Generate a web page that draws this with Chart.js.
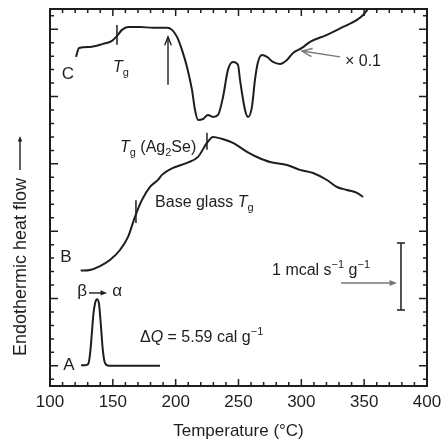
<!DOCTYPE html>
<html>
<head>
<meta charset="utf-8">
<script src="https://cdn.jsdelivr.net/npm/chart.js@4.4.0/dist/chart.umd.min.js"></script>
<style>
  html, body { margin: 0; padding: 0; background: #fff; }
  canvas { display: block; }
</style>
</head>
<body>
<canvas id="c" width="442" height="441" style="width:442px;height:441px"></canvas>
<script>
// curve A (beta -> alpha transition)
const tempA = [124.7, 128, 130.5, 132, 133.2, 134.5, 136, 137.5, 139, 140.5, 142, 143.8, 147, 160, 187.5];
const heatA = [0.05, 0.05, 0.15, 1.0, 2.3, 3.8, 4.7, 4.95, 4.6, 3.0, 1.2, 0.2, 0.0, 0.0, 0.0];

// curve B (base glass)
const tempB = [124.4, 131.8, 139.8, 147.7, 155.7, 162.1, 167.6, 173.2, 179.6, 185.9, 189.1, 197.9, 209.0, 217.8, 224.9,
  229.7, 236.9, 245.6, 256.8, 264.7, 275.1, 288.6, 298.9, 309.3, 320.4, 328.4, 336.3, 344.3, 349.1];
const heatB = [7.07, 7.12, 7.41, 7.86, 8.60, 9.57, 11.06, 12.32, 13.29, 13.81, 14.18, 14.70, 15.07, 15.52, 16.56,
  17.00, 16.85, 16.56, 15.89, 15.51, 15.14, 14.92, 14.55, 14.32, 13.80, 13.28, 13.06, 12.84, 12.54];

// curve C
const tempC = [120.7, 123.1, 131.8, 142.2, 149.3, 153.3, 157.3, 162.1, 171.6, 182.0, 193.1, 197.1, 201.1, 205.0, 209.0,
  213.0, 215.4, 217.8, 221.7, 225.7, 229.7, 233.7, 237.7, 241.6, 245.6, 249.6, 251.2, 255.2, 257.6, 260.7, 263.1,
  265.5, 268.7, 272.7, 277.4, 283.0, 288.6, 293.4, 300.5, 306.9, 320.4, 333.2, 344.3, 349.1, 353.0];
const heatC = [22.94, 23.61, 23.68, 23.91, 24.13, 24.50, 24.95, 25.17, 25.17, 25.10, 25.10, 24.95, 24.43, 23.46, 22.20,
  20.49, 19.00, 18.26, 18.33, 18.63, 18.48, 18.63, 19.97, 21.98, 22.57, 22.35, 21.24, 19.00, 18.48, 19.23, 21.24,
  22.57, 23.09, 22.94, 22.57, 22.42, 22.72, 23.24, 23.61, 24.06, 24.58, 25.17, 25.69, 26.06, 26.50];

const xTicks = [100, 150, 200, 250, 300, 350, 400];

const toPts = (xs, ys) => xs.map((x, i) => ({ x: x, y: ys[i] }));

const ink = '#1e1e1e';
const grey = '#777';
const FONT = '"Liberation Sans", Arial, Helvetica, sans-serif';

function font(size, italic) {
  return (italic ? 'italic ' : '') + size + 'px ' + FONT;
}

// draw text made of parts: {t, it, sub, sup}
function rich(ctx, x, y, parts, size) {
  ctx.save();
  ctx.fillStyle = ink;
  ctx.textBaseline = 'alphabetic';
  ctx.textAlign = 'left';
  let cx = x;
  for (const p of parts) {
    let s = size, dy = 0;
    if (p.sub) { s = Math.round(size * 0.7); dy = 4; }
    if (p.sup) { s = Math.round(size * 0.7); dy = -7; }
    ctx.font = font(s, p.it);
    ctx.fillText(p.t, cx, y + dy);
    cx += ctx.measureText(p.t).width;
  }
  ctx.restore();
}

function arrow(ctx, x1, y1, x2, y2, color, filled, head) {
  const a = Math.atan2(y2 - y1, x2 - x1);
  const h = head || 8, w = 0.38;
  ctx.save();
  ctx.strokeStyle = color;
  ctx.fillStyle = color;
  ctx.lineWidth = 1.4;
  ctx.beginPath();
  ctx.moveTo(x1, y1);
  ctx.lineTo(filled ? x2 - Math.cos(a) * h * 0.8 : x2, filled ? y2 - Math.sin(a) * h * 0.8 : y2);
  ctx.stroke();
  ctx.beginPath();
  ctx.moveTo(x2 - h * Math.cos(a - w), y2 - h * Math.sin(a - w));
  ctx.lineTo(x2, y2);
  ctx.lineTo(x2 - h * Math.cos(a + w), y2 - h * Math.sin(a + w));
  if (filled) { ctx.closePath(); ctx.fill(); } else { ctx.stroke(); }
  ctx.restore();
}

const decor = {
  id: 'decor',
  afterDraw(chart) {
    const ctx = chart.ctx;
    const xs = chart.scales.x, ys = chart.scales.y;
    const X = v => xs.getPixelForValue(v);
    const Y = v => ys.getPixelForValue(v);
    const a = chart.chartArea;

    ctx.save();
    // ticks, pointing inward on all four sides
    ctx.strokeStyle = ink;
    ctx.lineWidth = 1.5;
    ctx.beginPath();
    for (let t = 100; t <= 400; t += 10) {
      const len = t % 50 === 0 ? 7 : 4;
      const px = X(t);
      ctx.moveTo(px, a.bottom); ctx.lineTo(px, a.bottom - len);
      ctx.moveTo(px, a.top); ctx.lineTo(px, a.top + len);
    }
    for (let u = -1; u <= 26; u++) {
      const len = u % 5 === 0 ? 8 : 4;
      const py = Y(u);
      ctx.moveTo(a.left, py); ctx.lineTo(a.left + len, py);
      ctx.moveTo(a.right, py); ctx.lineTo(a.right - len, py);
    }
    ctx.stroke();

    // frame
    ctx.lineWidth = 2;
    ctx.strokeRect(a.left, a.top, a.right - a.left, a.bottom - a.top);

    // x tick labels
    ctx.fillStyle = ink;
    ctx.font = font(17);
    ctx.textAlign = 'center';
    ctx.textBaseline = 'middle';
    xTicks.forEach(t => ctx.fillText(String(t), X(t), a.bottom + 16));

    // axis titles
    ctx.font = font(17);
    ctx.fillText('Temperature (\u00B0C)', (a.left + a.right) / 2, a.bottom + 45);

    ctx.save();
    ctx.translate(21, 356);
    ctx.rotate(-Math.PI / 2);
    ctx.font = font(18);
    ctx.textAlign = 'left';
    const yt = 'Endothermic heat flow';
    ctx.fillText(yt, 0, 0);
    const tw = ctx.measureText(yt).width;
    ctx.restore();
    arrow(ctx, 20, 356 - tw - 8, 20, 356 - tw - 42, ink, true, 6);

    // glass transition tick marks on curves
    ctx.lineWidth = 1.5;
    ctx.strokeStyle = ink;
    ctx.beginPath();
    ctx.moveTo(X(153.3), Y(23.84)); ctx.lineTo(X(153.3), Y(25.32));
    ctx.moveTo(X(224.9), Y(16.04)); ctx.lineTo(X(224.9), Y(17.3));
    ctx.moveTo(X(168.4), Y(10.6)); ctx.lineTo(X(168.4), Y(12.3));
    ctx.stroke();

    // curve letters
    ctx.font = font(17);
    ctx.textAlign = 'center';
    ctx.textBaseline = 'middle';
    ctx.fillText('A', X(115.1), Y(0.06));
    ctx.fillText('B', X(112.7), Y(8.08));
    ctx.fillText('C', X(114.3), Y(21.68));

    // labels
    rich(ctx, X(150.1), Y(21.83), [{ t: 'T', it: true }, { t: 'g', sub: true }], 16);
    rich(ctx, X(155.7), Y(15.88), [{ t: 'T', it: true }, { t: 'g', sub: true }, { t: ' (Ag' }, { t: '2', sub: true }, { t: 'Se)' }], 16);
    rich(ctx, X(183.6), Y(11.8), [{ t: 'Base glass ' }, { t: 'T', it: true }, { t: 'g', sub: true }], 16);
    rich(ctx, X(171.6), Y(1.77), [{ t: '\u0394' }, { t: 'Q', it: true }, { t: ' = 5.59 cal g' }, { t: '\u22121', sup: true }], 16);
    rich(ctx, X(334.7), Y(22.28), [{ t: '\u00D7 0.1' }], 16);
    rich(ctx, X(276.7), Y(6.75), [{ t: '1 mcal s' }, { t: '\u22121', sup: true }, { t: ' g' }, { t: '\u22121', sup: true }], 16);

    // beta -> alpha
    ctx.font = font(17);
    ctx.textAlign = 'center';
    ctx.textBaseline = 'alphabetic';
    ctx.fillText('\u03B2', X(125.5), Y(5.19));
    ctx.fillText('\u03B1', X(153.5), Y(5.19));
    arrow(ctx, X(131), Y(5.41), X(145.4), Y(5.41), ink, true, 7);

    // arrows
    arrow(ctx, X(193.9), Y(20.87), X(193.9), Y(24.43), ink, false, 9);
    arrow(ctx, X(330.8), Y(22.94), X(300.5), Y(23.38), grey, false, 11);
    arrow(ctx, X(331.6), Y(6.15), X(376.1), Y(6.15), grey, true, 8);

    // scale bar
    ctx.strokeStyle = ink;
    ctx.lineWidth = 1.5;
    const bx = X(379.3);
    ctx.beginPath();
    ctx.moveTo(bx, Y(4.15)); ctx.lineTo(bx, Y(9.12));
    ctx.moveTo(bx - 4, Y(4.15)); ctx.lineTo(bx + 4, Y(4.15));
    ctx.moveTo(bx - 4, Y(9.12)); ctx.lineTo(bx + 4, Y(9.12));
    ctx.stroke();
    ctx.restore();
  }
};

const lineStyle = {
  borderColor: ink,
  borderWidth: 2,
  pointRadius: 0,
  fill: false,
  cubicInterpolationMode: 'monotone'
};

new Chart(document.getElementById('c'), {
  type: 'line',
  data: {
    datasets: [
      Object.assign({ label: 'A', data: toPts(tempA, heatA) }, lineStyle),
      Object.assign({ label: 'B', data: toPts(tempB, heatB) }, lineStyle),
      Object.assign({ label: 'C', data: toPts(tempC, heatC) }, lineStyle)
    ]
  },
  options: {
    responsive: false,
    animation: false,
    layout: { padding: { left: 50, right: 15, top: 9, bottom: 55 } },
    plugins: { legend: { display: false }, tooltip: { enabled: false } },
    scales: {
      x: { type: 'linear', min: 100, max: 400, display: false },
      y: { type: 'linear', min: -1.5, max: 26.5, display: false }
    }
  },
  plugins: [decor]
});
</script>
</body>
</html>
